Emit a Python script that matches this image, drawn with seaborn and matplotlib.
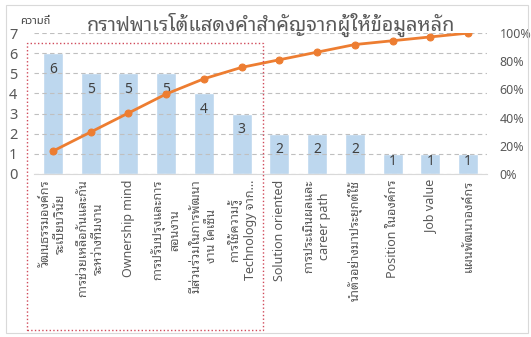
import numpy as np
import pandas as pd
import seaborn as sns
import matplotlib
matplotlib.use("Agg")
import matplotlib.pyplot as plt
import matplotlib.patches as mpatches
from matplotlib.ticker import PercentFormatter

# data
categories = [
    "วัฒนธรรมองค์กร\nระเบียบวินัย",
    "การช่วยเหลือกันและกัน\nระหว่างทีมงาน",
    "Ownership mind",
    "การปรับปรุงและการ\nสอนงาน",
    "มีส่วนร่วมในการพัฒนา\nงาน ไคเซ็น",
    "การใช้ความรู้\nTechnology จาก...",
    "Solution oriented",
    "การประเมินผลและ\ncareer path",
    "นำตัวอย่างมาประยุกต์ใช้",
    "Position ในองค์กร",
    "Job value",
    "แผนพัฒนาองค์กร",
]
counts = [6, 5, 5, 5, 4, 3, 2, 2, 2, 1, 1, 1]
left_ticks = [0, 1, 2, 3, 4, 5, 6, 7]
right_ticks = [0, 0.2, 0.4, 0.6, 0.8, 1.0]

title = "กราฟพาเรโต้แสดงคำสำคัญจากผู้ให้ข้อมูลหลัก"
y_label = "ความถี่"

df = pd.DataFrame({"cat": categories, "n": counts})
df["cum"] = np.cumsum(df["n"]) / df["n"].sum()

sns.set_style("white")
plt.rcParams["font.family"] = ["Noto Sans Thai Looped", "Open Sans", "DejaVu Sans"]

txt = "#595959"
fig = plt.figure(figsize=(5.31, 3.37), dpi=100)
ax = fig.add_axes([0.064, 0.4837, 0.853, 0.418])

sns.barplot(data=df, x="cat", y="n", color="#bdd7ee", saturation=1, width=0.53, ax=ax, zorder=1)
# labels sit inside the bar end; short bars get them closer to the top
labels = ax.bar_label(ax.containers[0], padding=-17, fontsize=10, color="#404040")
for lab, n in zip(labels, counts):
    if n <= 1:
        lab.xyann = (0, -11)

ax.set_ylim(0, 7)
ax.set_xlim(-0.5, len(categories) - 0.5)
ax.set_yticks(left_ticks)
ax.yaxis.grid(True, color="#bfbfbf", linestyle=(0, (4, 3)), linewidth=0.8, zorder=2)
ax.set_axisbelow(False)
ax.set_xlabel("")
ax.set_ylabel("")
ax.tick_params(axis="y", length=0, pad=12, labelsize=10.5, labelcolor=txt)
ax.tick_params(axis="x", length=0, pad=4, labelsize=9, labelcolor=txt)
ax.set_xticks(range(len(categories)))
ax.set_xticklabels(categories, rotation=90)
for t in ax.get_xticklabels():
    t.set_linespacing(1.25)
for s in ["left", "right", "top"]:
    ax.spines[s].set_visible(False)
ax.spines["bottom"].set_color("#d9d9d9")

ax2 = ax.twinx()
sns.lineplot(x=np.arange(len(categories)), y=df["cum"].values, ax=ax2, color="#ed7d31",
             linewidth=2, marker="o", markersize=5, markeredgecolor="#ed7d31")
ax2.set_ylim(0, 1)
ax2.set_yticks(right_ticks)
ax2.yaxis.set_major_formatter(PercentFormatter(1.0, decimals=0))
ax2.tick_params(axis="y", length=0, pad=9, labelsize=9, labelcolor=txt)
for s in ax2.spines.values():
    s.set_visible(False)

fig.text(0.51, 0.926, title, ha="center", va="center", fontsize=14.3, color=txt)
fig.text(0.037, 0.937, y_label, ha="left", va="center", fontsize=8, fontweight="bold",
         color="#404040", family=["Noto Sans Thai", "DejaVu Sans"])

# chart frame and the dotted highlight box
fig.patches.append(mpatches.Rectangle((0.011, 0.012), 0.983, 0.973, transform=fig.transFigure,
                                      fill=False, edgecolor="#d9d9d9", linewidth=0.8))
fig.patches.append(mpatches.Rectangle((0.051, 0.021), 0.444, 0.852, transform=fig.transFigure,
                                      fill=False, edgecolor="#d04a5a", linestyle=":", linewidth=1))

fig.savefig("out.png", dpi=100)
